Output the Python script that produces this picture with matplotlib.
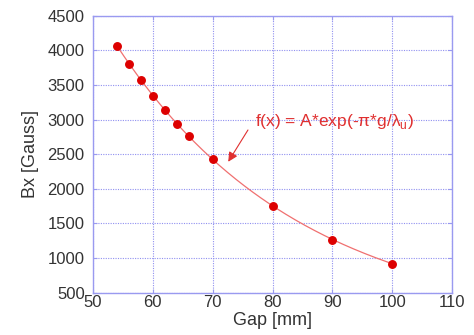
import numpy as np
import matplotlib
matplotlib.use("Agg")
import matplotlib.pyplot as plt

plt.rcParams['font.family'] = ['Liberation Sans', 'DejaVu Sans']
plt.rcParams['mathtext.fontset'] = 'custom'
plt.rcParams['mathtext.rm'] = 'Liberation Sans'

gap = [54, 56, 58, 60, 62, 64, 66, 70, 80, 90, 100]
bx = [4066, 3806, 3571, 3344, 3142, 2940, 2763, 2426, 1757, 1266, 920]
xticks = [50, 60, 70, 80, 90, 100, 110]
yticks = [500, 1000, 1500, 2000, 2500, 3000, 3500, 4000, 4500]

g = np.array(gap, dtype=float)
b = np.array(bx, dtype=float)
slope, intercept = np.polyfit(g, np.log(b), 1)
gf = np.linspace(g.min(), g.max(), 200)
bf = np.exp(intercept + slope * gf)

fig = plt.figure(figsize=(4.74, 3.35), dpi=100)
ax = fig.add_axes([93/474, 1 - 292.7/335, (452-93)/474, (292.7-15.6)/335])

ax.plot(gf, bf, color='#f07070', lw=0.9, zorder=2)
ax.plot(g, b, 'o', color='#dd0000', ms=5.4, zorder=3)

ax.set_xlim(50, 110)
ax.set_ylim(500, 4500)
ax.set_xticks(xticks)
ax.set_yticks(yticks)
ax.grid(True, color='#9090f0', ls=(0, (1, 1.2)), lw=0.8)
ax.set_axisbelow(True)
for s in ax.spines.values():
    s.set_color('#9a9af0')
    s.set_linewidth(1.0)
ax.tick_params(direction='in', length=3, color='#9a9af0', labelsize=12,
               labelcolor='#333333', top=True, right=True)
ax.tick_params(axis='x', pad=2)
ax.tick_params(axis='y', pad=6)
ax.set_xlabel('Gap [mm]', fontsize=13, color='#333333', labelpad=1)
ax.set_ylabel('Bx [Gauss]', fontsize=13, color='#333333', labelpad=6)

ax.text(77.0, 2965, 'f(x) = A*exp(-π*g/λ$_\\mathregular{u}$)',
        color='#e03030', fontsize=12.5, va='center', ha='left', zorder=4)
ax.annotate('', xy=(72.6, 2390), xytext=(75.9, 2849),
            arrowprops=dict(arrowstyle='-|>', color='#e03030', lw=0.8,
                            shrinkA=0, shrinkB=0, mutation_scale=14),
            zorder=4)

fig.savefig('out.png', dpi=100)
